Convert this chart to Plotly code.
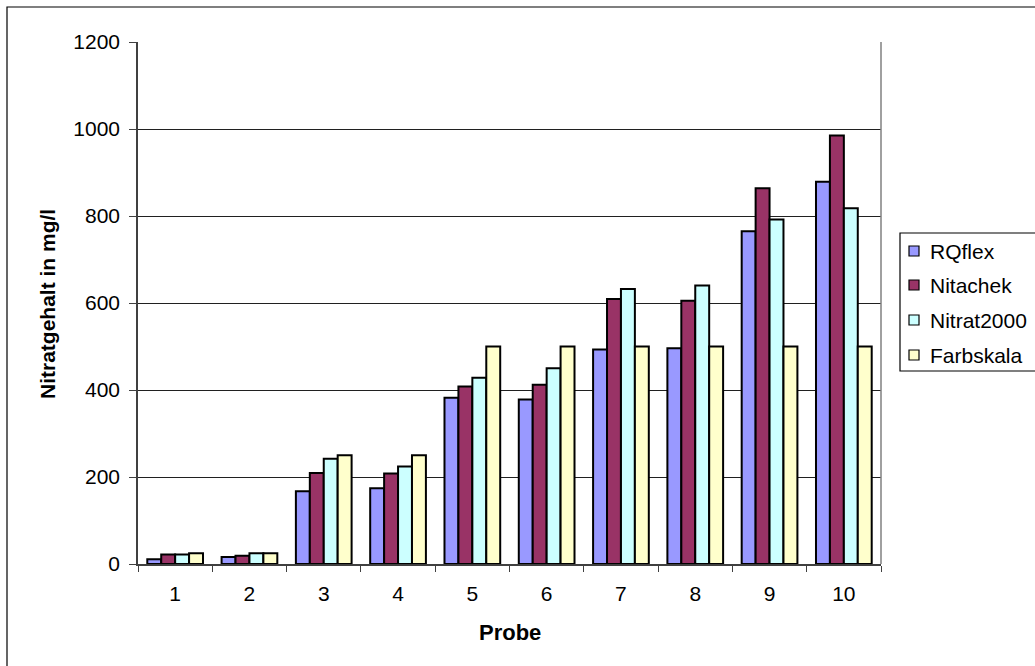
import plotly.graph_objects as go

# Nitrate content per sample, four measuring methods
probes = ["1", "2", "3", "4", "5", "6", "7", "8", "9", "10"]
series_names = ["RQflex", "Nitachek", "Nitrat2000", "Farbskala"]
rqflex = [11, 16, 167, 174, 382, 378, 493, 496, 765, 879]
nitachek = [22, 19, 209, 208, 408, 412, 609, 605, 864, 985]
nitrat2000 = [22, 25, 242, 224, 428, 450, 632, 640, 792, 818]
farbskala = [25, 25, 250, 250, 500, 500, 500, 500, 500, 500]
y_ticks = [0, 200, 400, 600, 800, 1000, 1200]

colors = ["#9999FF", "#993366", "#CCFFFF", "#FFFFCC"]
values = [rqflex, nitachek, nitrat2000, farbskala]

W, H = 1035, 666
L, R, T, B = 138, 154, 42, 102
pw, ph = W - L - R, H - T - B


def px_x(p):
    return (p - L) / pw


def px_y(p):
    return (H - B - p) / ph


FONT = "Liberation Sans, Arial, sans-serif"

fig = go.Figure()
for name, vals, col in zip(series_names, values, colors):
    fig.add_trace(go.Bar(
        x=probes, y=vals, name=name,
        marker=dict(color=col, line=dict(color="black", width=2)),
        showlegend=False,
    ))

shapes = []
annotations = []

# outer chart frame
shapes.append(dict(type="rect", xref="paper", yref="paper",
                   x0=px_x(7), x1=px_x(1200), y0=px_y(800), y1=px_y(7),
                   line=dict(color="black", width=1.2), layer="below"))
# right edge of the plot area
shapes.append(dict(type="line", xref="paper", yref="paper",
                   x0=1, x1=1, y0=0, y1=1,
                   line=dict(color="#808080", width=1.5)))

# legend box with swatches
shapes.append(dict(type="rect", xref="paper", yref="paper",
                   x0=px_x(900), x1=px_x(1200), y0=px_y(371), y1=px_y(233),
                   line=dict(color="black", width=1.2), fillcolor="white"))
row_y = [251, 285, 320, 355]
for name, col, ry in zip(series_names, colors, row_y):
    shapes.append(dict(type="rect", xref="paper", yref="paper",
                       x0=px_x(909), x1=px_x(919), y0=px_y(ry + 5), y1=px_y(ry - 5),
                       line=dict(color="black", width=1.2), fillcolor=col))
    annotations.append(dict(text=name, xref="paper", yref="paper",
                            x=px_x(928), y=px_y(ry), xanchor="left", yanchor="middle",
                            showarrow=False, font=dict(family=FONT, size=21, color="black")))

# axis titles
annotations.append(dict(text="<b>Probe</b>", xref="paper", yref="paper",
                        x=0.5, y=px_y(632), xanchor="center", yanchor="middle",
                        showarrow=False, font=dict(family=FONT, size=22, color="black")))
annotations.append(dict(text="<b>Nitratgehalt in mg/l</b>", xref="paper", yref="paper",
                        x=px_x(47), y=px_y(304), xanchor="center", yanchor="middle", textangle=-90,
                        showarrow=False, font=dict(family=FONT, size=21, color="black")))

fig.update_layout(
    width=W, height=H,
    margin=dict(l=L, r=R, t=T, b=B),
    paper_bgcolor="white", plot_bgcolor="white",
    barmode="group", bargap=0.25, bargroupgap=0,
    font=dict(family=FONT, size=21, color="black"),
    shapes=shapes, annotations=annotations,
    showlegend=False,
)
fig.update_xaxes(
    type="category", tickson="boundaries",
    showline=True, linecolor="#404040", linewidth=1.5,
    ticks="outside", ticklen=6, tickcolor="#404040",
    showgrid=False, ticklabelstandoff=10,
    tickfont=dict(family=FONT, size=21),
)
fig.update_yaxes(
    range=[0, 1200], tickvals=y_ticks,
    showline=True, linecolor="#404040", linewidth=1.5,
    ticks="outside", ticklen=7, tickcolor="#404040",
    showgrid=True, gridcolor="#202020", gridwidth=1,
    zeroline=False, ticklabelstandoff=5,
    tickfont=dict(family=FONT, size=21),
)

fig.write_html("out.html")
